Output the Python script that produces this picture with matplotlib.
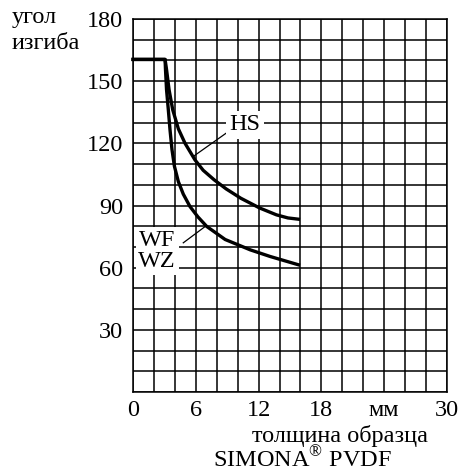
import numpy as np
import matplotlib
matplotlib.use('Agg')
import matplotlib.pyplot as plt

plt.rcParams['font.family'] = ['Liberation Serif', 'DejaVu Serif']
plt.rcParams['mathtext.fontset'] = 'custom'
plt.rcParams['mathtext.rm'] = 'Liberation Serif'

# толщина образца (мм) и угол изгиба
hs_x = [0, 3.06, 3.2, 3.44, 3.79, 4.33, 4.97, 5.92, 6.7, 7.75, 8.9, 10.3, 12.1, 13.7, 14.8, 15.8]
hs_y = [160.5, 160.5, 155.6, 145.9, 136.2, 127, 120, 112, 107, 102.4, 98, 93.5, 88.8, 85.5, 84, 83.4]

wf_x = [0, 3.06, 3.1, 3.2, 3.37, 3.53, 3.72, 3.95, 4.33, 4.8, 5.44, 6.2, 7.04, 8.8, 11.2, 13.1, 15.8]
wf_y = [160.5, 160.5, 155.6, 145.9, 136.2, 126.6, 117, 109, 101.5, 95.5, 89.5, 84.5, 79.9, 73.6, 68.6, 65.4, 61.4]

x_ticks = [0, 6, 12, 18, 24, 30]
x_labels = ['0', '6', '12', '18', 'мм', '30']
y_ticks = [30, 60, 90, 120, 150, 180]

fs = 17.5

fig = plt.figure(figsize=(4.62, 4.72), dpi=100)
ax = fig.add_axes([0.288, 0.1695, 0.6795, 0.7902])

ax.set_xlim(0, 30)
ax.set_ylim(0, 180)
ax.set_xticks(x_ticks)
ax.set_xticklabels(x_labels)
ax.set_yticks(y_ticks)
ax.set_xticks(np.arange(0, 31, 2), minor=True)
ax.set_yticks(np.arange(0, 181, 10), minor=True)
ax.tick_params(which='both', length=0, labelsize=fs)
ax.tick_params(axis='y', pad=7)
ax.tick_params(axis='x', pad=6)
ax.grid(which='both', color='black', linewidth=1.1)
for s in ax.spines.values():
    s.set_linewidth(1.1)

ax.plot(hs_x, hs_y, color='black', linewidth=2.4, zorder=3, clip_on=False,
        solid_joinstyle='round')
ax.plot(wf_x, wf_y, color='black', linewidth=2.4, zorder=3, clip_on=False,
        solid_joinstyle='round')

# подписи кривых
ax.plot([5.76, 9.2], [113.7, 126], color='black', linewidth=0.9, zorder=3)
ax.text(10.7, 129, 'HS', fontsize=fs, ha='center', va='center', zorder=4,
        bbox=dict(facecolor='white', edgecolor='none', pad=2.5))
ax.plot([4.8, 6.9], [72, 79.9], color='black', linewidth=0.9, zorder=3)
ax.text(2.3, 68.1, 'WF\nWZ', fontsize=fs, ha='center', va='center', zorder=4,
        linespacing=1.0, bbox=dict(facecolor='white', edgecolor='none', pad=2))

fig.text(0.026, 1 - 22.7 / 472, 'угол', fontsize=fs, ha='left', va='baseline')
fig.text(0.026, 1 - 49.3 / 472, 'изгиба', fontsize=fs, ha='left', va='baseline')
fig.text(340 / 462, 1 - 441.7 / 472, 'толщина образца', fontsize=fs,
         ha='center', va='baseline')
fig.text(302 / 462, 1 - 467 / 472, 'SIMONA$^{\\mathrm{®}}$ PVDF', fontsize=fs,
         ha='center', va='baseline')

fig.savefig('out.png', dpi=100)
